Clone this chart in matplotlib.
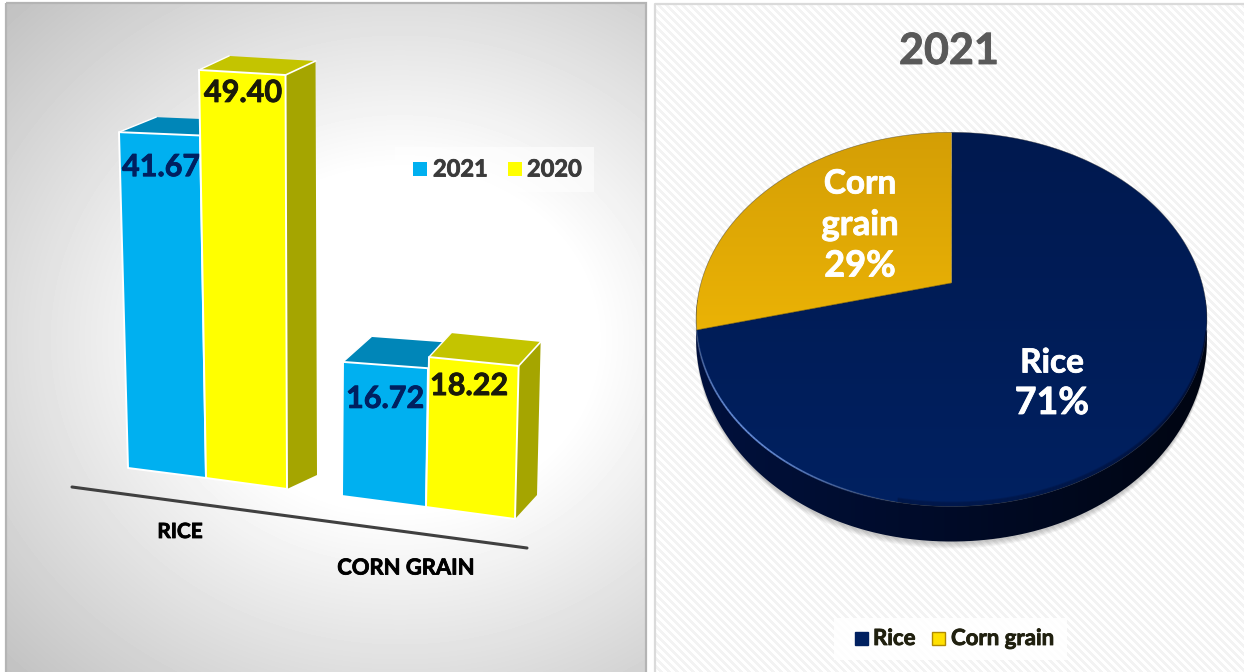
import numpy as np
import matplotlib
matplotlib.use("Agg")
import matplotlib.pyplot as plt
import matplotlib.patheffects as pe
from matplotlib.patches import Polygon, Rectangle
from matplotlib.collections import LineCollection

# ---- data
categories = ["RICE", "CORN GRAIN"]
series_names = ["2021", "2020"]
values_2021 = [41.67, 16.72]
values_2020 = [49.40, 18.22]
pie_labels = ["Rice", "Corn grain"]
pie_shares = [71, 29]
pie_title = "2021"

FONT = "Lato"
BLUE, YELLOW = "#00B0F0", "#FFFF00"
BLUE_TOP, YELLOW_TOP, YELLOW_SIDE = "#0086B8", "#C4C400", "#A5A500"
NAVY_TXT = "#002060"

fig = plt.figure(figsize=(12.44, 6.72), dpi=100, facecolor="white")
ax = fig.add_axes([0, 0, 1, 1])
W, H = 1244, 672


def label(x, y, s, color, size, ha="center", z=7, bold=.6):
    t = ax.text(x, y, s, color=color, fontsize=size, fontweight="bold", family=FONT,
                ha=ha, va="center", zorder=z)
    t.set_path_effects([pe.withStroke(linewidth=bold, foreground=color)])
    return t


def grid(x0, x1, y0, y1):
    xs = np.arange(x0, x1) + .5
    ys = np.arange(y0, y1) + .5
    return np.meshgrid(xs, ys)


def show(img, x0, x1, y0, y1, clip=None, z=1):
    im = ax.imshow(img, extent=(x0, x1, y1, y0), origin="upper", vmin=0, vmax=1,
                   cmap="gray" if img.ndim == 2 else None, aspect="auto",
                   interpolation="bilinear", zorder=z)
    if clip is not None:
        clip.set_transform(ax.transData)
        im.set_clip_path(clip)
    return im


# ---- left panel: radial grey background
X, Y = grid(7, 646, 4, 672)
d = np.hypot((X - 400) / 390, (Y - 340) / 340)
show(np.clip(255 - 68 * np.maximum(d - .5, 0), 0, 255) / 255, 7, 646, 4, 672)
ax.add_patch(Rectangle((6, 3), 640, 680, fill=False, ec="#B4B4B4", lw=1.6, zorder=2))

# ---- right panel: fine diagonal stripes
X, Y = grid(656, 1244, 4, 672)
st = ((X - Y) % 8.0) < 4.0
show(np.where(st, 1.0, 0.955), 656, 1244, 4, 672)
ax.plot([655, 655, 1244], [672, 3.5, 3.5], color="#DADADA", lw=1.6, zorder=2)

# ---- 3-D columns: geometry of each column's foot, height comes from the value
geom = {
    (0, 0): dict(bl=(128, 468), br=(206, 478), s=8.06, sr=8.22, ll=-.216, lr=-.144, dp=(37, -15), lab=35, labx=161),
    (0, 1): dict(bl=(206, 478), br=(287, 489), s=8.26, sr=8.38, ll=-.142, lr=-.03, dp=(30, -14), lab=23, labx=243),
    (1, 0): dict(bl=(342, 496), br=(426, 507), s=8.02, sr=8.3, ll=.06, lr=.12, dp=(28, -25), lab=37, labx=385),
    (1, 1): dict(bl=(426, 507), br=(515, 519), s=8.23, sr=8.4, ll=.165, lr=.2, dp=(22, -24), lab=29, labx=469),
}


def column(c, s, v, front, top, side, txt):
    g = geom[(c, s)]
    bl, br = np.array(g["bl"], float), np.array(g["br"], float)
    tl = bl + (g["ll"] * v, -g["s"] * v)
    tr = br + (g["lr"] * v, -g["sr"] * v)
    dp = np.array(g["dp"], float)
    z = 5 + c * 10 + s * 2
    ax.add_patch(Polygon([tl, tr, tr + dp, tl + dp], fc=top, ec="none", zorder=z))
    if side is not None:
        ax.add_patch(Polygon([tr, br, br + dp, tr + dp], fc=side, ec="none", zorder=z))
        ax.plot(*zip(tr, tr + dp), color="white", lw=1.2, zorder=z + .2)
    ax.plot(*zip(tl, tl + dp), color="white", lw=1.0, zorder=z + .2)
    ax.add_patch(Polygon([tl, tr, br, bl], fc=front, ec="white", lw=1.4,
                         joinstyle="round", zorder=z + .1))
    label(g["labx"], tl[1] + g["lab"], f"{v:.2f}", txt, 22, z=z + 1)


for c in range(len(categories)):
    column(c, 0, values_2021[c], BLUE, BLUE_TOP, None, NAVY_TXT)
    column(c, 1, values_2020[c], YELLOW, YELLOW_TOP, YELLOW_SIDE, "#1A1A0A")

# category axis
ax.plot([72, 527], [487, 548], color="#404040", lw=2.2, solid_capstyle="round", zorder=4)
for name, (x, y), size in zip(categories, [(180, 532), (406, 568)], [15, 15.8]):
    label(x, y, name, "black", size, z=4)

# left legend
ax.add_patch(Rectangle((395, 147), 199, 45, fc="white", ec="none", alpha=.6, zorder=3))
for name, col, xm, xt in zip(series_names, [BLUE, YELLOW], [413, 508], [433, 527]):
    ax.add_patch(Rectangle((xm, 162), 14, 14, fc=col, ec="none", zorder=4))
    label(xt, 169, name, "#3B3B3B", 17, ha="left", z=4)

# ---- pie: unit circle seen in perspective
CX, CY, A, B, K = 951.5, 283.0, 250.5, 180.0, 0.1947


def proj(theta, dy=0.0):
    u, v = np.sin(theta), np.cos(theta)
    w = 1 + K * v
    # the extrusion tapers towards the two sides of the disc
    return CX + A * u / w, CY - B * v / w + dy * (1 - .45 * np.abs(u) ** 3)


full = np.linspace(0, 2 * np.pi, 721)
xf, yf = proj(full)
rim_depth = 35.0

# soft shadow below the disc
for i in range(8):
    sx, sy = proj(full, rim_depth + 1.5 + i * .8)
    ax.fill(sx, sy, color="#303030", alpha=.035, lw=0, zorder=3)

# rim
right = full[(full > np.radians(60)) & (full < np.radians(300))]
rx1, ry1 = proj(right)
rx2, ry2 = proj(right, rim_depth)
rim_poly = Polygon(np.c_[np.r_[rx1, rx2[::-1]], np.r_[ry1, ry2[::-1]]], closed=True)
X, Y = grid(680, 1220, 300, 560)
t = np.clip((X - 695) / 512, 0, 1)
rim_img = np.dstack([0 * t, .065 - .045 * t, .24 - .17 * t])
show(rim_img, 680, 1220, 300, 560, clip=rim_poly, z=4)

# top face gradients, built from the shares
frac = np.cumsum(pie_shares) / np.sum(pie_shares)
th_rice = np.linspace(0, 2 * np.pi * frac[0], 500)
th_corn = np.linspace(2 * np.pi * frac[0], 2 * np.pi * frac[1], 300)
X, Y = grid(680, 1220, 120, 520)
t = np.clip((Y - 130) / 380, 0, 1)
navy = np.dstack([0 * t, (.098 + .03 * t), (.31 + .07 * t)])
px, py = proj(th_rice)
show(navy, 680, 1220, 120, 520,
     clip=Polygon(np.c_[np.r_[CX, px], np.r_[CY, py]], closed=True), z=5)
t = np.clip((Y - 130) / 200, 0, 1)
gold = np.dstack([.83 + .09 * t, .62 + .08 * t, .02 + 0 * t])
px, py = proj(th_corn)
show(gold, 680, 1220, 120, 520,
     clip=Polygon(np.c_[np.r_[CX, px], np.r_[CY, py]], closed=True), z=5)
ax.plot(xf, yf, color="#3A3A3A", lw=.5, alpha=.55, zorder=6)
px, py = proj(th_corn[[0]])
ax.plot([CX, px[0]], [CY, py[0]], color="#4A3A00", lw=.6, alpha=.6, zorder=6)

# soft lower edge of the top face, running into the rim
soft = np.radians(np.linspace(105, 190, 200))
for i in range(5):
    ex, ey = proj(soft, -i * 1.0)
    ax.plot(ex, ey, color="#000A28", lw=1.4, alpha=.2, zorder=6, solid_capstyle="butt")

# highlight along the lower-left edge
th = np.radians(np.linspace(188, 262, 90))
hxs, hys = proj(th)
pts = np.c_[hxs, hys]
segs = np.stack([pts[:-1], pts[1:]], axis=1)
al = np.sin(np.linspace(0, np.pi, len(segs))) ** 1.2
lc = LineCollection(segs, colors=[(.45, .62, .95, a * .8) for a in al], linewidths=1.3, zorder=6)
ax.add_collection(lc)

# pie title and labels
label(949, 51, pie_title, "#595959", 31)
for txt, y, size in zip(["Corn", "grain", f"{pie_shares[1]}%"], [184, 225, 266], [24, 25, 26]):
    label(860, y, txt, "white", size)
for txt, y, size in zip([pie_labels[0], f"{pie_shares[0]}%"], [363, 403], [24, 27]):
    label(1052, y, txt, "white", size)

# pie legend
ax.add_patch(Rectangle((834, 618), 233, 42, fc="white", ec="none", alpha=.9, zorder=3))
for name, fc, ec, xm, xt in zip(pie_labels, ["#002060", "#FFE000"], ["#002060", "#B08A00"],
                                [855, 932], [873, 951]):
    ax.add_patch(Rectangle((xm, 632), 13, 13, fc=fc, ec=ec, lw=1, zorder=4))
    label(xt, 638.5, name, "#20200F", 16, ha="left", z=4)

ax.set_xlim(0, W)
ax.set_ylim(H, 0)
ax.axis("off")
fig.savefig("out.png", dpi=100, facecolor="white")
